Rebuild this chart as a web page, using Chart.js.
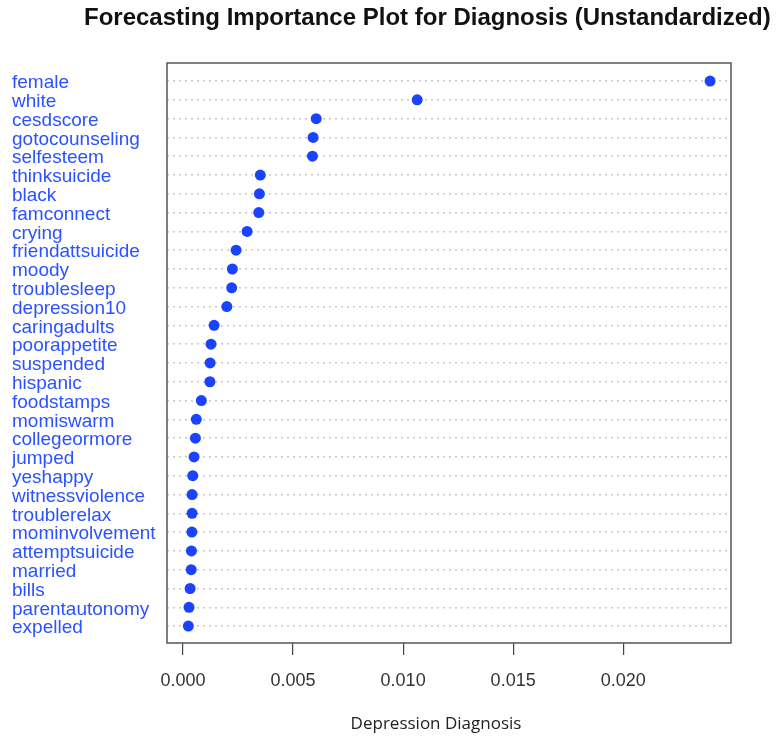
<!DOCTYPE html>
<html>
<head>
<meta charset="utf-8">
<script src="https://cdn.jsdelivr.net/npm/chart.js@4"></script>
<style>
  html, body { margin: 0; padding: 0; background: #fff; }
  #wrap { width: 776px; height: 736px; }
</style>
</head>
<body>
<div id="wrap"><canvas id="importanceChart"></canvas></div>
<script>
var variables = ['female', 'white', 'cesdscore', 'gotocounseling', 'selfesteem', 'thinksuicide', 'black',
  'famconnect', 'crying', 'friendattsuicide', 'moody', 'troublesleep', 'depression10', 'caringadults',
  'poorappetite', 'suspended', 'hispanic', 'foodstamps', 'momiswarm', 'collegeormore', 'jumped',
  'yeshappy', 'witnessviolence', 'troublerelax', 'mominvolvement', 'attemptsuicide', 'married',
  'bills', 'parentautonomy', 'expelled'];
var importance = [0.02395, 0.01064, 0.00605, 0.00591, 0.00588, 0.00351, 0.00347,
  0.00344, 0.00291, 0.00241, 0.00224, 0.00221, 0.00199, 0.00141,
  0.00127, 0.00123, 0.00122, 0.00083, 0.00060, 0.00056, 0.00050,
  0.00044, 0.00041, 0.00041, 0.00040, 0.00038, 0.00037,
  0.00032, 0.00027, 0.00024];
var xTicks = [0, 0.005, 0.010, 0.015, 0.020];

var dotColor = '#1a43ff';
var labelColor = '#2a52ff';

// frame box, main title and x axis title (R dotchart look)
var framePlugin = {
    id: 'frame',
    afterDraw: function(chart) {
        var ctx = chart.ctx, a = chart.chartArea;
        ctx.save();
        ctx.strokeStyle = '#555';
        ctx.lineWidth = 1.5;
        ctx.strokeRect(a.left, a.top, a.right - a.left, a.bottom - a.top);
        ctx.fillStyle = '#111';
        ctx.textBaseline = 'alphabetic';
        ctx.font = 'bold 24px "Liberation Sans", Arial, sans-serif';
        ctx.fillText('Forecasting Importance Plot for Diagnosis (Unstandardized)', 84, 25);
        ctx.font = '17px "Open Sans", sans-serif';
        ctx.textAlign = 'center';
        ctx.fillStyle = '#222';
        ctx.fillText('Depression Diagnosis', 436, 729);
        ctx.restore();
    }
};

var ctx = document.getElementById('importanceChart').getContext('2d');
var importanceChart = new Chart(ctx, {
    type: 'scatter',
    data: {
        datasets: [{
            label: 'Importance',
            data: importance.map(function(v, i) { return { x: v, y: i }; }),
            pointRadius: 5.5,
            pointBackgroundColor: dotColor,
            pointBorderWidth: 0
        }]
    },
    options: {
        responsive: true,
        maintainAspectRatio: false,
        animation: false,
        layout: { padding: { left: 12, right: 45, top: 63, bottom: 0 } },
        plugins: {
            legend: { display: false },
            tooltip: { enabled: false }
        },
        scales: {
            x: {
                type: 'linear',
                min: -0.00073,
                max: 0.0249,
                afterBuildTicks: function(scale) {
                    scale.ticks = xTicks.map(function(v) { return { value: v }; });
                },
                afterFit: function(scale) { scale.height = 93; },
                grid: { drawOnChartArea: false, drawTicks: true, tickLength: 12, color: '#444', lineWidth: 1.2 },
                border: { display: false },
                ticks: {
                    padding: 15,
                    color: '#333',
                    font: { family: '"Liberation Sans", Arial, sans-serif', size: 18 },
                    callback: function(v) { return v.toFixed(3); }
                }
            },
            y: {
                type: 'linear',
                reverse: true,
                min: -0.96,
                max: 29.9,
                afterBuildTicks: function(scale) {
                    scale.ticks = variables.map(function(_, i) { return { value: i }; });
                },
                afterFit: function(scale) { scale.width = 155; },
                grid: { drawTicks: false, color: '#c8c8c8', lineWidth: 1.5 },
                border: { display: false, dash: [2, 4] },
                ticks: {
                    autoSkip: false,
                    crossAlign: 'far',
                    labelOffset: 2,
                    color: labelColor,
                    font: { family: '"Liberation Sans", Arial, sans-serif', size: 19 },
                    callback: function(v) { return variables[v]; }
                }
            }
        }
    },
    plugins: [framePlugin]
});
</script>
</body>
</html>
